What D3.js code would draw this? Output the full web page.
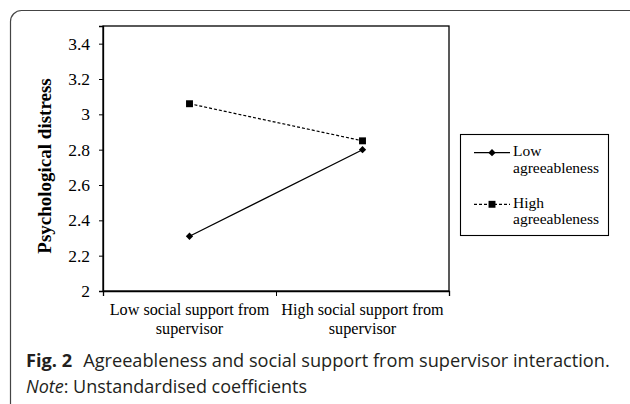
<!DOCTYPE html>
<html>
<head>
<meta charset="utf-8">
<script src="https://cdn.jsdelivr.net/npm/d3@7"></script>
<style>
  body { margin: 0; background: #fff; }
  svg { display: block; }
</style>
</head>
<body>
<svg id="chart" width="630" height="404"></svg>
<script>
// x categories (each label split in two lines)
const categories = ['Low social support from supervisor', 'High social support from supervisor'];
const categoryLines = [['Low social support from', 'supervisor'], ['High social support from', 'supervisor']];
// series
const seriesNames = ['Low agreeableness', 'High agreeableness'];
const lowAgreeableness = [2.31, 2.80];
const highAgreeableness = [3.06, 2.85];
// y ticks
const yTicks = [2, 2.2, 2.4, 2.6, 2.8, 3, 3.2, 3.4];

const svg = d3.select('#chart');
const serif = "'Liberation Serif', 'Times New Roman', serif";
const sans = "'Open Sans', 'Noto Sans', sans-serif";

// outer rounded frame (runs off the right and bottom edges)
svg.append('rect')
    .attr('x', 10.5).attr('y', 10.5)
    .attr('width', 640).attr('height', 420)
    .attr('rx', 11).attr('ry', 11)
    .attr('fill', 'none')
    .attr('stroke', '#444')
    .attr('stroke-width', 1.2);

const plot = {left: 103, top: 26, right: 449, bottom: 291};

const x = d3.scaleBand().domain(categories).range([plot.left, plot.right]);
const xEdges = d3.scaleLinear().domain([0, categories.length]).range([plot.left, plot.right]);
const y = d3.scaleLinear().domain([2, 3.5]).range([plot.bottom, plot.top]);

// plot box
svg.append('rect')
    .attr('x', plot.left).attr('y', plot.top)
    .attr('width', plot.right - plot.left).attr('height', plot.bottom - plot.top)
    .attr('fill', 'none').attr('stroke', '#000').attr('stroke-width', 1.3);

// y axis
const yAxis = svg.append('g')
    .attr('transform', `translate(${plot.left},0)`)
    .call(d3.axisLeft(y).tickValues(yTicks).tickSize(4).tickPadding(9)
        .tickFormat(d => String(+d.toFixed(1))));
yAxis.select('.domain').attr('stroke-width', 1.3);
yAxis.selectAll('.tick line').attr('stroke-width', 1);
yAxis.selectAll('text')
    .style('font-family', serif).style('font-size', '17.5px').attr('fill', '#000');

// x axis: ticks at band edges, labels centred in bands
const xAxis = svg.append('g')
    .attr('transform', `translate(0,${plot.bottom})`)
    .call(d3.axisBottom(xEdges).tickValues(d3.range(categories.length + 1)).tickSize(5).tickFormat(''));
xAxis.select('.domain').attr('stroke-width', 1.3);

const xLabels = svg.append('g');
categories.forEach((c, i) => {
    const t = xLabels.append('text')
        .attr('x', x(c) + x.bandwidth() / 2)
        .attr('y', 315)
        .attr('text-anchor', 'middle')
        .style('font-family', serif).style('font-size', '16.2px');
    categoryLines[i].forEach((line, j) => {
        t.append('tspan')
            .attr('x', x(c) + x.bandwidth() / 2)
            .attr('dy', j === 0 ? 0 : 18.5)
            .text(line);
    });
});

// y axis title
svg.append('text')
    .attr('transform', `translate(51,166) rotate(-90)`)
    .attr('text-anchor', 'middle')
    .style('font-family', serif).style('font-size', '19px').style('font-weight', 'bold')
    .text('Psychological distress');

const cx = c => x(c) + x.bandwidth() / 2;
const line = d3.line().x(d => cx(d.c)).y(d => y(d.v));

const diamond = d3.symbol().type(d3.symbolDiamond2).size(34);
const square = d3.symbol().type(d3.symbolSquare).size(48);

const series = [
    {name: seriesNames[0], values: lowAgreeableness, dash: null, symbol: diamond},
    {name: seriesNames[1], values: highAgreeableness, dash: '3,2', symbol: square}
];

series.forEach(s => {
    const pts = s.values.map((v, i) => ({c: categories[i], v: v}));
    svg.append('path')
        .datum(pts)
        .attr('d', line)
        .attr('fill', 'none').attr('stroke', '#000').attr('stroke-width', 1.2)
        .attr('stroke-dasharray', s.dash);
    svg.selectAll(null).data(pts).enter().append('path')
        .attr('d', s.symbol)
        .attr('transform', d => `translate(${cx(d.c)},${y(d.v)})`)
        .attr('fill', '#000');
});

// legend
const legend = svg.append('g');
legend.append('rect')
    .attr('x', 460.5).attr('y', 134.5).attr('width', 148).attr('height', 101)
    .attr('fill', 'none').attr('stroke', '#000').attr('stroke-width', 1.1);

series.forEach((s, i) => {
    const ly = 152.7 + i * 51.6;
    legend.append('line')
        .attr('x1', 474).attr('x2', 510).attr('y1', ly).attr('y2', ly)
        .attr('stroke', '#000').attr('stroke-width', 1.2)
        .attr('stroke-dasharray', s.dash);
    legend.append('path')
        .attr('d', s.symbol)
        .attr('transform', `translate(492,${ly})`)
        .attr('fill', '#000');
    const words = s.name.split(' ');
    const t = legend.append('text')
        .attr('x', 513).attr('y', ly + 3.5)
        .style('font-family', serif).style('font-size', '15.5px');
    words.forEach((w, j) => {
        t.append('tspan').attr('x', 513).attr('dy', j === 0 ? 0 : 16.5).text(w);
    });
});

// caption
const cap = svg.append('text')
    .attr('x', 26).attr('y', 366.5)
    .style('font-family', sans).style('font-size', '18.2px').attr('fill', '#231f20');
cap.append('tspan').style('font-weight', 'bold').text('Fig. 2');
cap.append('tspan').attr('dx', 11).text('Agreeableness and social support from supervisor interaction.');

const note = svg.append('text')
    .attr('x', 26).attr('y', 392.5)
    .style('font-family', sans).style('font-size', '18px').attr('fill', '#231f20');
note.append('tspan').style('font-style', 'italic').text('Note');
note.append('tspan').text(': Unstandardised coefficients');
</script>
</body>
</html>
